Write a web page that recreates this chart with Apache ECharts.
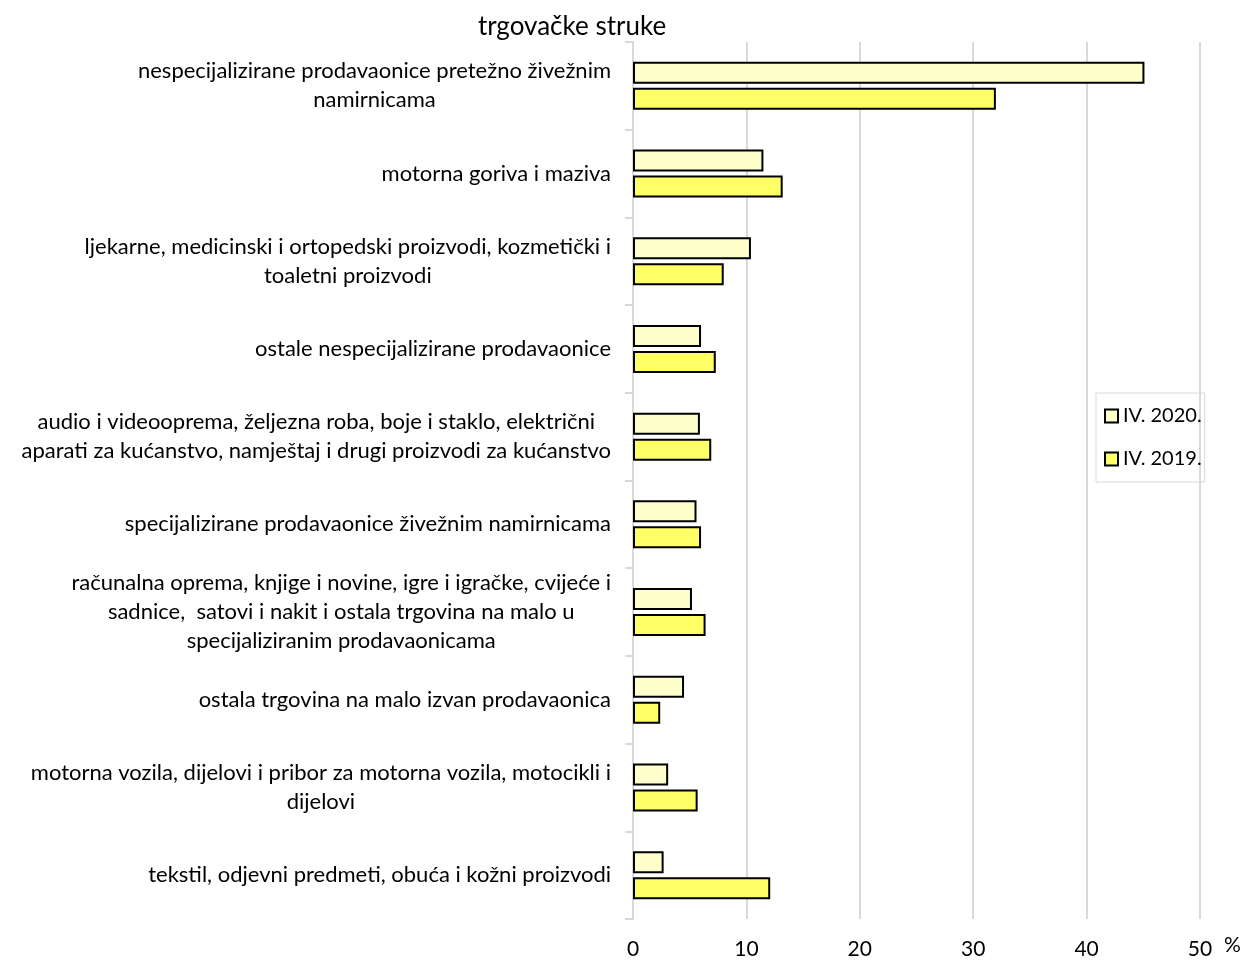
<!DOCTYPE html>
<html><head><meta charset="utf-8">
<script src="https://cdn.jsdelivr.net/npm/echarts@6/dist/echarts.min.js"></script>
<style>html,body{margin:0;padding:0;background:#fff}#c{width:1246px;height:960px}</style>
</head><body><div id="c"></div>
<script>
const categories = [
  "nespecijalizirane prodavaonice pretežno živežnim\nnamirnicama",
  "motorna goriva i maziva",
  "ljekarne, medicinski i ortopedski proizvodi, kozmetički i\ntoaletni proizvodi",
  "ostale nespecijalizirane prodavaonice",
  "audio i videooprema, željezna roba, boje i staklo, električni\naparati za kućanstvo, namještaj i drugi proizvodi za kućanstvo",
  "specijalizirane prodavaonice živežnim namirnicama",
  "računalna oprema, knjige i novine, igre i igračke, cvijeće i\nsadnice,  satovi i nakit i ostala trgovina na malo u\nspecijaliziranim prodavaonicama",
  "ostala trgovina na malo izvan prodavaonica",
  "motorna vozila, dijelovi i pribor za motorna vozila, motocikli i\ndijelovi",
  "tekstil, odjevni predmeti, obuća i kožni proizvodi"
];
const seriesNames = ["IV. 2020.", "IV. 2019."];
const values2020 = [45.1, 11.5, 10.4, 6.0, 5.9, 5.6, 5.2, 4.5, 3.1, 2.7];
const values2019 = [32.0, 13.2, 8.0, 7.3, 6.9, 6.0, 6.4, 2.4, 5.7, 12.1];
const xTicks = [0, 10, 20, 30, 40, 50];

const FONT = 'Lato';
const FS = 22;
const chart = echarts.init(document.getElementById('c'));
chart.setOption({
  animation: false,
  textStyle: { fontFamily: FONT, color: '#000' },
  title: {
    text: 'trgovačke struke', left: 567, top: 9, textAlign: 'center',
    textStyle: { fontFamily: FONT, fontSize: 26, fontWeight: 'normal', color: '#000' }
  },
  legend: {
    orient: 'vertical', left: 1096, top: 393,
    data: seriesNames,
    borderColor: '#d9d9d9', borderWidth: 1, padding: [13, 3, 13, 8],
    itemWidth: 13, itemHeight: 13, itemGap: 23,
    icon: 'rect',
    textStyle: { fontFamily: FONT, fontSize: 20, color: '#000' }
  },
  grid: { left: 633, right: 46, top: 42, bottom: 40, containLabel: false },
  xAxis: {
    type: 'value', min: xTicks[0], max: xTicks[xTicks.length - 1], interval: 10,
    axisLine: { show: false }, axisTick: { show: false },
    splitLine: { show: true, lineStyle: { color: '#d9d9d9', width: 2 } },
    axisLabel: { fontFamily: FONT, fontSize: 21, color: '#000', margin: 20 },
    name: '%', nameLocation: 'end', nameGap: 24,
    nameTextStyle: { fontFamily: FONT, fontSize: 21, color: '#000', verticalAlign: 'top', padding: [16, 0, 0, 0] }
  },
  yAxis: {
    type: 'category', inverse: true, data: categories,
    axisLine: { show: true, lineStyle: { color: '#d9d9d9', width: 2 } },
    axisTick: { show: true, length: 8, lineStyle: { color: '#d9d9d9', width: 2 } },
    axisLabel: {
      fontFamily: FONT, fontSize: FS, color: '#000', margin: 22, align: 'right', lineHeight: 29,
      formatter: function (v) { return v.split('\n').map(function (l) { return '{a|' + l + '}'; }).join('\n'); },
      rich: { a: { align: 'center', fontFamily: FONT, fontSize: FS, lineHeight: 29, color: '#000' } }
    }
  },
  series: [
    { name: seriesNames[0], type: 'bar', data: values2020, barWidth: 22, barGap: '18%',
      itemStyle: { color: '#FFFFCC', borderColor: '#000', borderWidth: 2 } },
    { name: seriesNames[1], type: 'bar', data: values2019, barWidth: 22,
      itemStyle: { color: '#FFFF66', borderColor: '#000', borderWidth: 2 } }
  ]
});
</script></body></html>
